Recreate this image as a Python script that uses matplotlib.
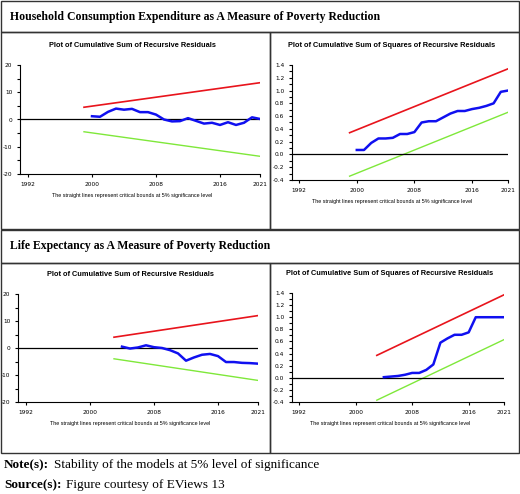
import numpy as np
import matplotlib.pyplot as plt
from matplotlib.patches import Rectangle
from matplotlib.ticker import AutoMinorLocator

plt.rcParams['mathtext.fontset'] = 'custom'
plt.rcParams['mathtext.bf'] = 'Liberation Serif:bold'
plt.rcParams['mathtext.rm'] = 'Liberation Serif'

W, H = 520, 494

# data
years_hh = list(range(2000, 2022))
cusum_hh = [1.2, 1.0, 2.8, 4.0, 3.6, 3.9, 2.7, 2.7, 1.8, 0.0, -0.7, -0.6,
            0.5, -0.5, -1.5, -1.2, -2.0, -1.0, -2.0, -1.2, 0.8, 0.2]
cusumsq_hh = [0.07, 0.07, 0.18, 0.25, 0.25, 0.26, 0.32, 0.32, 0.35, 0.50, 0.52,
              0.52, 0.58, 0.64, 0.68, 0.68, 0.71, 0.73, 0.76, 0.80, 0.98, 1.00]
bound_years_hh = [1999, 2021]
cusum_up_hh = [4.5, 13.5]
cusum_lo_hh = [-4.5, -13.5]
sq_up_hh = [0.34, 1.34]
sq_lo_hh = [-0.34, 0.66]

years_le = list(range(2004, 2022))
cusum_le = [0.5, -0.2, 0.2, 1.0, 0.3, 0.0, -0.8, -2.0, -4.7, -3.5, -2.5, -2.2,
            -3.0, -5.2, -5.2, -5.5, -5.6, -5.8]
cusumsq_le = [0.01, 0.02, 0.03, 0.05, 0.08, 0.08, 0.13, 0.22, 0.58, 0.65, 0.71,
              0.71, 0.75, 1.0, 1.0, 1.0, 1.0, 1.0]
bound_years_le = [2003, 2021]
cusum_up_le = [4.0, 12.0]
cusum_lo_le = [-4.0, -12.0]
sq_up_le = [0.37, 1.37]
sq_lo_le = [-0.37, 0.63]

xticks = [1992, 2000, 2008, 2016, 2021]

fig = plt.figure(figsize=(W / 100, H / 100), dpi=100)


def px_axes(x0, y0, x1, y1):
    # pixel box (top-left origin) -> figure axes
    return fig.add_axes([x0 / W, 1 - y1 / H, (x1 - x0) / W, (y1 - y0) / H])


def px_text(x, y, s, **kw):
    return fig.text(x / W, 1 - y / H, s, **kw)


def px_rect(x0, y0, x1, y1):
    fig.patches.append(Rectangle((x0 / W, 1 - y1 / H), (x1 - x0) / W, (y1 - y0) / H,
                                 transform=fig.transFigure, fill=False,
                                 edgecolor='#333333', linewidth=1))


# table borders
for top, mid, bot in [(1, 32, 229), (230, 263, 453)]:
    px_rect(1, top, 519, mid)
    px_rect(1, mid, 270, bot)
    px_rect(270, mid, 519, bot)

px_text(10, 17, 'Household Consumption Expenditure as A Measure of Poverty Reduction',
        family='Liberation Serif', weight='bold', fontsize=8.5, va='center')
px_text(10, 246, 'Life Expectancy as A Measure of Poverty Reduction',
        family='Liberation Serif', weight='bold', fontsize=8.5, va='center')


def panel(box, title, years, vals, byears, up, lo, ylim, yticks, ylabels):
    ax = px_axes(*box)
    ax.plot(byears, up, color='#e8141c', lw=1.2)
    ax.plot(byears, lo, color='#7fe83a', lw=1.0)
    ax.axhline(0, color='black', lw=0.9)
    ax.plot(years, vals, color='#1010f0', lw=1.8)
    ax.set_xlim(1991, 2021)
    ax.set_ylim(*ylim)
    ax.set_xticks(xticks)
    ax.set_xticklabels([str(t) for t in xticks])
    ax.set_yticks(yticks)
    ax.set_yticklabels(ylabels)
    ax.yaxis.set_minor_locator(AutoMinorLocator(2))
    ax.tick_params(labelsize=4.2, length=2.5, width=0.8, pad=3)
    ax.tick_params(which='minor', length=2, width=0.8)
    for s in ['top', 'right']:
        ax.spines[s].set_visible(False)
    cx = (box[0] + box[2]) / 2
    px_text(cx - 8, box[1] - 18, title, fontsize=5.3, weight='bold',
            family='Liberation Sans', ha='center')
    px_text(cx - 8, box[3] + 23, 'The straight lines represent critical bounds at 5% significance level',
            fontsize=3.9, family='Liberation Sans', ha='center')
    return ax


cs_title = 'Plot of Cumulative Sum of Recursive Residuals'
sq_title = 'Plot of Cumulative Sum of Squares of Recursive Residuals'
cs_ticks = [-20, -10, 0, 10, 20]
sq_ticks = [-0.4, -0.2, 0.0, 0.2, 0.4, 0.6, 0.8, 1.0, 1.2, 1.4]
sq_labels = ['%.1f' % v for v in sq_ticks]

panel((20, 65, 260, 174), cs_title, years_hh, cusum_hh, bound_years_hh,
      cusum_up_hh, cusum_lo_hh, (-20, 20), cs_ticks, [str(v) for v in cs_ticks])
panel((292, 65, 508, 180), sq_title, years_hh, cusumsq_hh, bound_years_hh,
      sq_up_hh, sq_lo_hh, (-0.4, 1.4), sq_ticks, sq_labels)
panel((18, 294, 258, 402), cs_title, years_le, cusum_le, bound_years_le,
      cusum_up_le, cusum_lo_le, (-20, 20), cs_ticks, [str(v) for v in cs_ticks])
panel((292, 293, 504, 402), sq_title, years_le, cusumsq_le, bound_years_le,
      sq_up_le, sq_lo_le, (-0.4, 1.4), sq_ticks, sq_labels)

px_text(4, 465, 'Note(s):', family='Liberation Serif', weight='bold',
        fontsize=9.5, va='center')
px_text(54, 465, 'Stability of the models at 5% level of significance',
        family='Liberation Serif', fontsize=9.5, va='center')
px_text(4, 485, 'Source(s):', family='Liberation Serif', weight='bold',
        fontsize=9.5, va='center')
px_text(66, 485, 'Figure courtesy of EViews 13',
        family='Liberation Serif', fontsize=9.5, va='center')

fig.savefig('out.png', dpi=100)
